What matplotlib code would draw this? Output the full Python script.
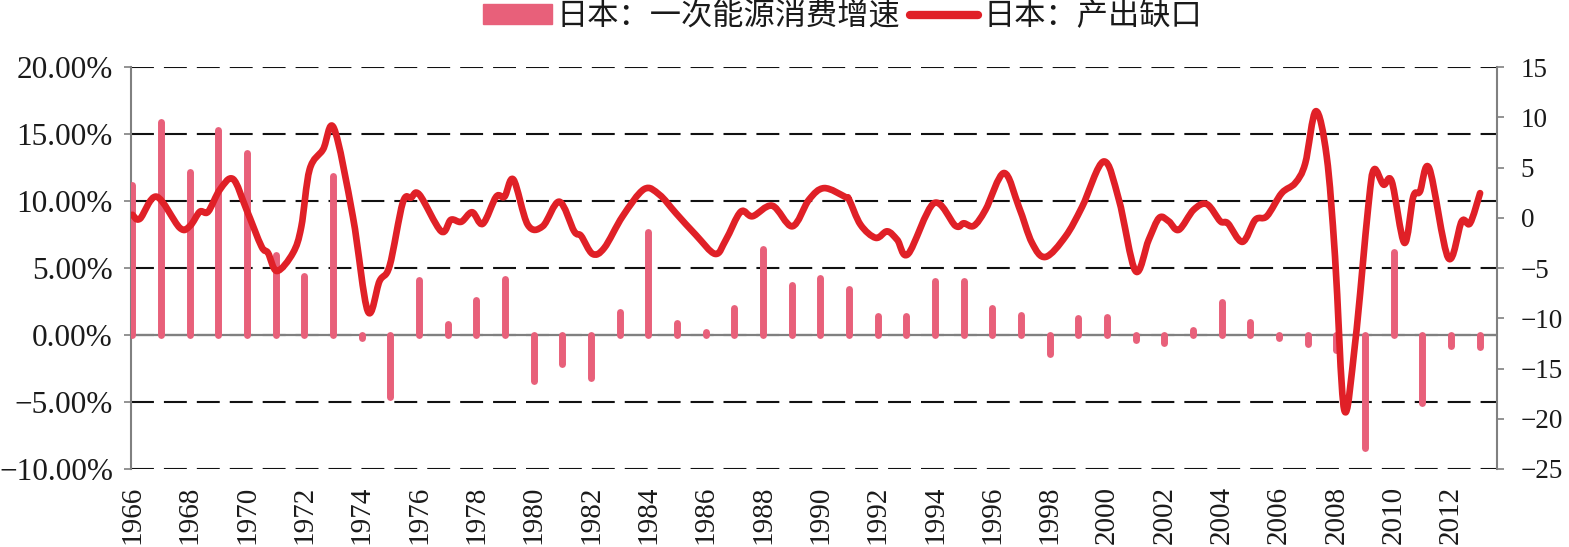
import matplotlib
matplotlib.use('Agg')
import matplotlib.pyplot as plt
from matplotlib.patches import Patch, PathPatch
from matplotlib.path import Path
from matplotlib.lines import Line2D
from matplotlib.ticker import FuncFormatter

plt.rcParams['font.family'] = ['Liberation Serif', 'Noto Sans CJK SC']

# Japan: primary energy consumption growth (%), annual
years = list(range(1966, 2014))
energy_growth = [11.2, 15.9, 12.2, 15.3, 13.6, 6.0, 4.4, 11.9, -0.2, -4.6,
                 4.1, 0.8, 2.6, 4.2, -3.4, -2.2, -3.2, 1.7, 7.7, 0.9,
                 0.2, 2.0, 6.4, 3.7, 4.25, 3.4, 1.4, 1.4, 4.0, 4.0,
                 2.0, 1.5, -1.4, 1.3, 1.35, -0.4, -0.6, 0.4, 2.5, 1.0,
                 -0.2, -0.7, -1.1, -8.4, 6.2, -5.1, -0.8, -0.9]

# Japan: output gap (time in years, value)
gap_time = [1966.0, 1966.26, 1966.84, 1967.65, 1968.01, 1968.35, 1968.64, 1969.05, 1969.51, 1969.98,
            1970.5, 1970.73, 1971.04, 1971.6, 1971.89, 1972.18, 1972.65, 1973.03, 1973.69, 1974.21,
            1974.62, 1974.97, 1975.43, 1975.72, 1976.01, 1976.77, 1977.11, 1977.47, 1977.85, 1978.22,
            1978.69, 1978.98, 1979.29, 1979.79, 1980.31, 1980.89, 1981.41, 1981.65, 1982.05, 1982.46,
            1983.1, 1983.85, 1984.38, 1984.96, 1985.65, 1986.33, 1986.7, 1987.22, 1987.63, 1988.32,
            1989.02, 1989.6, 1990.13, 1990.88, 1991.0, 1991.4, 1991.93, 1992.33, 1992.68, 1993.06,
            1993.96, 1994.71, 1995.0, 1995.35, 1995.76, 1996.4, 1996.92, 1997.38, 1997.85, 1998.55,
            1999.13, 1999.88, 2000.41, 2000.99, 2001.45, 2001.82, 2002.15, 2002.5, 2003.02, 2003.48,
            2003.95, 2004.21, 2004.72, 2005.17, 2005.57, 2006.09, 2006.56, 2006.91, 2007.28, 2007.66,
            2007.95, 2008.27, 2008.65, 2009.11, 2009.31, 2009.64, 2009.93, 2010.37, 2010.68, 2010.91,
            2011.24, 2011.9, 2012.37, 2012.66, 2013.01]
gap_value = [0.3, -0.1, 2.1, -1.0, -0.8, 0.6, 0.6, 2.8, 3.85, 0.8,
             -2.85, -3.5, -5.3, -3.5, -0.9, 4.8, 6.8, 8.9, 0.1, -9.3,
             -6.3, -4.8, 1.5, 2.0, 2.3, -1.35, -0.2, -0.4, 0.55, -0.6,
             2.1, 2.1, 3.8, -0.7, -0.85, 1.6, -1.35, -1.8, -3.6, -3.0,
             0.15, 2.85, 2.3, 0.45, -1.7, -3.6, -2.2, 0.6, 0.15, 1.2,
             -0.85, 1.8, 2.95, 2.05, 1.8, -0.7, -2.0, -1.35, -2.2, -3.6,
             1.45, -0.8, -0.55, -0.8, 0.8, 4.45, 1.1, -2.5, -3.9, -1.85,
             1.1, 5.6, 1.8, -5.3, -2.2, 0.0, -0.35, -1.2, 0.8, 1.35,
             -0.35, -0.55, -2.4, -0.2, 0.15, 2.45, 3.45, 5.4, 10.6, 6.1,
             -3.85, -19.1, -12.5, 1.1, 4.8, 3.3, 3.6, -2.5, 2.1, 2.6,
             4.9, -4.0, -0.35, -0.55, 2.45]

bar_color = '#E8607A'
line_color = '#E02027'
text_color = '#1a1a1a'
axis_gray = '#808080'


# smoothed line like Excel: bezier segments through the data points
def smooth_path(xs, ys):
    verts = [(xs[0], ys[0])]
    codes = [Path.MOVETO]
    n = len(xs)
    for i in range(n - 1):
        x0, y0 = xs[max(i - 1, 0)], ys[max(i - 1, 0)]
        x1, y1 = xs[i], ys[i]
        x2, y2 = xs[i + 1], ys[i + 1]
        x3, y3 = xs[min(i + 2, n - 1)], ys[min(i + 2, n - 1)]
        c1 = (x1 + (x2 - x0) / 6, y1 + (y2 - y0) / 6)
        c2 = (x2 - (x3 - x1) / 6, y2 - (y3 - y1) / 6)
        verts += [c1, c2, (x2, y2)]
        codes += [Path.CURVE4] * 3
    return Path(verts, codes)


fig = plt.figure(figsize=(15.69, 5.47), dpi=100)
ax = fig.add_axes([0.0835, 0.1426, 0.8706, 0.7349])

# bars drawn as thick round-capped strokes
ax.vlines(years, 0, energy_growth, colors=bar_color, linewidth=5,
          capstyle='round', zorder=3)

ax.set_xlim(1965.95, 2013.6)
ax.set_ylim(-10, 20)
ax.set_yticks([-10, -5, 0, 5, 10, 15, 20])
ax.yaxis.set_major_formatter(FuncFormatter(
    lambda v, p: ('%.2f%%' % v).replace('-', '\u2212')))
ax.grid(axis='y', linestyle=(0, (11, 4.8)), color='#111111', linewidth=1.5)
ax.set_axisbelow(True)
ax.axhline(0, color=axis_gray, linewidth=1.6, zorder=2)

ax.set_xticks(list(range(1966, 2013, 2)))
ax.set_xticklabels([str(y) for y in range(1966, 2013, 2)], rotation=90)
ax.tick_params(axis='x', length=0, pad=12, labelsize=21, labelcolor=text_color)
ax.tick_params(axis='y', direction='out', length=5, width=1.2, color=axis_gray,
               pad=8, labelsize=22.5, labelcolor=text_color)

for s in ['top', 'bottom', 'right']:
    ax.spines[s].set_visible(False)
ax.spines['left'].set_color(axis_gray)
ax.spines['left'].set_linewidth(1.5)

ax2 = ax.twinx()
ax2.add_patch(PathPatch(smooth_path(gap_time, gap_value), facecolor='none',
                        edgecolor=line_color, linewidth=4.8,
                        joinstyle='round', capstyle='round', zorder=5))
ax2.set_ylim(-25, 15)
ax2.set_yticks(list(range(-25, 16, 5)))
ax2.yaxis.set_major_formatter(FuncFormatter(
    lambda v, p: ('%d' % v).replace('-', '\u2212')))
ax2.tick_params(axis='y', direction='out', length=5, width=1.2, color=axis_gray,
                pad=12, labelsize=19.5, labelcolor=text_color)
for s in ['top', 'bottom', 'left']:
    ax2.spines[s].set_visible(False)
ax2.spines['right'].set_color(axis_gray)
ax2.spines['right'].set_linewidth(1.5)

handles = [Patch(facecolor=bar_color, edgecolor=bar_color),
           Line2D([0], [0], color=line_color, linewidth=6, solid_capstyle='round')]
labels = ['日本：一次能源消费增速', '日本：产出缺口']
fig.legend(handles, labels, loc='center', bbox_to_anchor=(0.537, 0.968),
           ncol=2, frameon=False, fontsize=22.5, handlelength=2.2,
           handleheight=0.6, handletextpad=0.15, columnspacing=0.3,
           labelcolor=text_color)

fig.savefig('out.png', dpi=100)
